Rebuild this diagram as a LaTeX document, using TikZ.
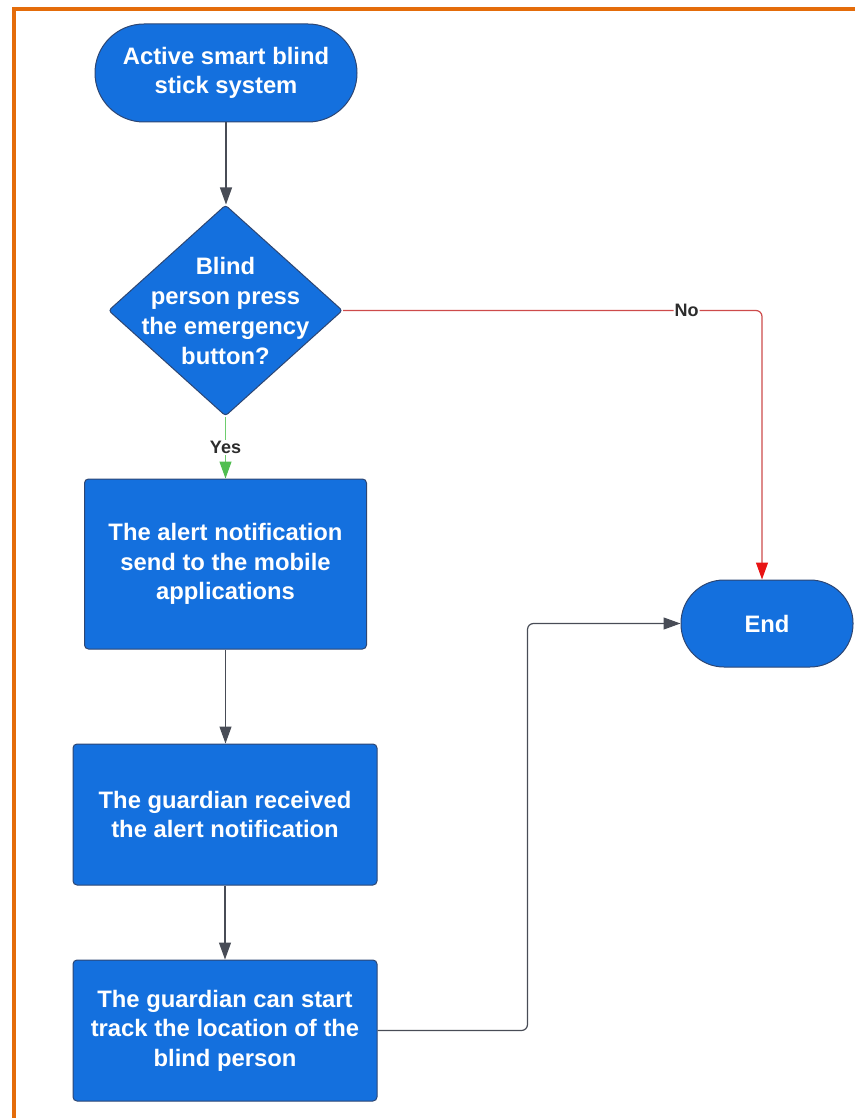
\documentclass[tikz,border=0pt]{standalone}
\usepackage{fontspec}
\setmainfont{Liberation Sans}
\usetikzlibrary{shapes.geometric,arrows.meta}
\definecolor{flowblue}{RGB}{20,112,222}
\definecolor{edgeblue}{RGB}{45,70,115}
\definecolor{frameorange}{RGB}{228,108,10}
\definecolor{linkgray}{RGB}{72,76,86}
\definecolor{yesgreen}{RGB}{110,205,110}
\definecolor{yestip}{RGB}{80,190,80}
\definecolor{nored}{RGB}{205,75,75}
\definecolor{noredtip}{RGB}{232,20,20}
\definecolor{labelgray}{RGB}{45,45,45}

\begin{document}
\begin{tikzpicture}[x=1pt,y=-1pt,
  base/.style={draw=edgeblue, line width=1pt, fill=flowblue, text=white,
    font=\bfseries\fontsize{23.8}{29.5}\selectfont, align=center, inner sep=0pt},
  terminal/.style={base, rectangle, rounded corners=#1},
  process/.style={base, rectangle, rounded corners=4pt},
  decision/.style={base, diamond, rounded corners=3pt},
  dtext/.style={text=white, font=\bfseries\fontsize{23.8}{30}\selectfont, align=center, inner sep=0pt},
  link/.style={draw=linkgray, line width=1.2pt, rounded corners=6pt,
    -{Triangle[length=17pt,width=12pt]}},
  yeslink/.style={draw=yesgreen, line width=1.2pt,
    -{Triangle[length=17pt,width=12pt,color=yestip]}},
  nolink/.style={draw=nored, line width=1.2pt, rounded corners=6pt,
    -{Triangle[length=17pt,width=12pt,color=noredtip]}},
  tag/.style={fill=white, text=labelgray, font=\bfseries\fontsize{18}{20}\selectfont, inner sep=1pt}
]
\useasboundingbox (0,0) rectangle (854,1118);

% orange frame on the top and left edges
\draw[frameorange, line width=4pt] (14,1130) -- (14,9) -- (870,9);

% flowchart nodes
\node[terminal=49pt, minimum width=262pt, minimum height=98pt] (start) at (226,73)
  {Active smart blind\\stick system};
\node[decision, minimum width=234pt, minimum height=211pt] (d) at (225.5,310.5) {};
\node[dtext] (dlabel) at (225.5,310.5) {Blind\\person press\\the emergency\\button?};
\node[process, minimum width=282pt, minimum height=170pt] (b1) at (225.5,564)
  {The alert notification\\send to the mobile\\applications};
\node[process, minimum width=304pt, minimum height=141pt] (b2) at (225,814.5)
  {The guardian received\\the alert notification};
\node[process, minimum width=304pt, minimum height=141pt] (b3) at (225,1030.5)
  {The guardian can start\\track the location of the\\blind person};
\node[terminal=43pt, minimum width=172pt, minimum height=87pt] (end) at (767,623.5)
  {End};

% connectors
\draw[link] (start.south) -- (start.south |- d.north);
\draw[yeslink] (d.south) -- node[tag] (yes) {Yes} (b1.north);
\draw[nolink] (d.east) -| node[tag, pos=0.41] (no) {No} ([xshift=-5pt]end.north);
\draw[link] (b1.south) -- (b1.south |- b2.north);
\draw[link] (b2.south) -- (b3.north);
\draw[link] (b3.east) -- ++(150,0) |- (end.west);
\end{tikzpicture}
\end{document}
